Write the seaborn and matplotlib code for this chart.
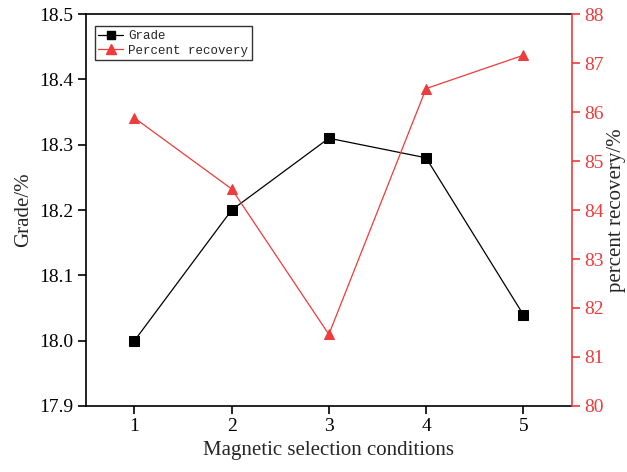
import matplotlib
matplotlib.use("Agg")
import matplotlib.pyplot as plt
import seaborn as sns
import pandas as pd
from matplotlib.lines import Line2D

conditions = [1, 2, 3, 4, 5]
grade = [18.00, 18.20, 18.31, 18.28, 18.04]
recovery = [85.88, 84.43, 81.46, 86.48, 87.16]

sns.set_theme(style="white")
plt.rcParams['font.family'] = ['Liberation Serif', 'DejaVu Serif']

df = pd.DataFrame({"cond": conditions, "grade": grade, "recovery": recovery})
red = "#ee3b3b"

fig = plt.figure(figsize=(6.27, 4.72), dpi=100)
ax = fig.add_axes([0.137, 0.14, 0.775, 0.83])
ax2 = ax.twinx()

sns.lineplot(data=df, x="cond", y="grade", ax=ax, color="black", marker="s",
             markersize=6.5, markeredgecolor="black", linewidth=0.9)
sns.lineplot(data=df, x="cond", y="recovery", ax=ax2, color=red, marker="^",
             markersize=7.5, markeredgecolor=red, linewidth=0.9)

ax.set_xlim(0.5, 5.5)
ax.set_ylim(17.9, 18.5)
ax2.set_ylim(80, 88)
ax.set_xticks(conditions)
ax.set_yticks([17.9, 18.0, 18.1, 18.2, 18.3, 18.4, 18.5])
ax.set_yticklabels(["17.9", "18.0", "18.1", "18.2", "18.3", "18.4", "18.5"])
ax2.set_yticks(range(80, 89))

ax.set_xlabel("Magnetic selection conditions", fontsize=15)
ax.set_ylabel("Grade/%", fontsize=15)
ax2.set_ylabel("percent recovery/%", fontsize=15, labelpad=2)

ax.tick_params(axis="both", direction="out", length=6, width=1.2, labelsize=14,
               colors="black", bottom=True, left=True, pad=3)
ax2.tick_params(axis="y", direction="out", length=6, width=1.2, labelsize=14,
                colors=red, right=True, pad=3)
for s in ["left", "bottom", "top"]:
    ax.spines[s].set_color("black")
    ax.spines[s].set_linewidth(1.2)
ax.spines["right"].set_visible(False)
for s in ["left", "bottom", "top"]:
    ax2.spines[s].set_visible(False)
ax2.spines["right"].set_color(red)
ax2.spines["right"].set_linewidth(1.2)

handles = [
    Line2D([], [], color="black", marker="s", markersize=6, linewidth=0.9),
    Line2D([], [], color=red, marker="^", markersize=7, linewidth=0.9),
]
leg = ax.legend(handles, ["Grade", "Percent recovery"], loc="upper left",
                bbox_to_anchor=(0.005, 0.985), frameon=True, fancybox=False,
                edgecolor="black", handlelength=2.0, borderpad=0.3,
                labelspacing=0.2, handletextpad=0.4,
                prop={"family": "Liberation Mono", "size": 9})
leg.get_frame().set_linewidth(1.0)
if ax2.get_legend():
    ax2.get_legend().remove()

fig.savefig("out.png", dpi=100)
